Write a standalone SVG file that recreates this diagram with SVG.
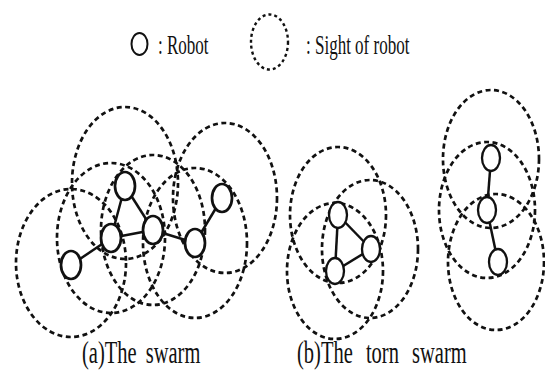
<svg xmlns="http://www.w3.org/2000/svg" width="545" height="382" viewBox="0 0 545 382">
<style>
.sight{fill:none;stroke:#111;stroke-width:2.7;stroke-dasharray:5 3.5}
.robot{fill:#fff;stroke:#111;stroke-width:2.7}
.robotb{fill:#fff;stroke:#111;stroke-width:2.3}
.edge{stroke:#111;stroke-width:2.5;fill:none}
.t{font-family:"Liberation Serif","Times New Roman",serif;fill:#111}
</style>
<rect width="545" height="382" fill="#fff"/>
<g id="legend">
<ellipse cx="139.5" cy="44" rx="8" ry="11" fill="#fff" stroke="#111" stroke-width="2"/>
<text class="t" font-size="17" transform="translate(158,54) scale(1,1.65)">: Robot</text>
<ellipse cx="269.5" cy="42" rx="18.5" ry="27.5" fill="none" stroke="#111" stroke-width="2.4" stroke-dasharray="3 3"/>
<text class="t" font-size="17" transform="translate(306,54) scale(1,1.65)">: Sight of robot</text>
</g>
<g id="sights">
<ellipse class="sight" cx="71" cy="263" rx="55" ry="74"/>
<ellipse class="sight" cx="125" cy="183" rx="53" ry="76"/>
<ellipse class="sight" cx="111" cy="238" rx="54" ry="75"/>
<ellipse class="sight" cx="153" cy="230" rx="52" ry="75"/>
<ellipse class="sight" cx="195" cy="243" rx="52" ry="75"/>
<ellipse class="sight" cx="225" cy="198" rx="52" ry="75"/>
<ellipse class="sight" cx="338" cy="215" rx="48" ry="68"/>
<ellipse class="sight" cx="370" cy="249" rx="48" ry="69"/>
<ellipse class="sight" cx="335" cy="271" rx="48" ry="68"/>
<ellipse class="sight" cx="491" cy="159" rx="48" ry="69"/>
<ellipse class="sight" cx="487" cy="210" rx="48" ry="68"/>
<ellipse class="sight" cx="496" cy="262" rx="48" ry="68"/>
</g>
<g id="connectors">
<line class="edge" x1="71" y1="265" x2="111" y2="238"/>
<line class="edge" x1="111" y1="238" x2="125" y2="186"/>
<line class="edge" x1="125" y1="186" x2="153" y2="230"/>
<line class="edge" x1="111" y1="238" x2="153" y2="230"/>
<line class="edge" x1="153" y1="230" x2="195" y2="243"/>
<line class="edge" x1="195" y1="243" x2="222" y2="198"/>
<line class="edge" x1="338" y1="215" x2="371" y2="249"/>
<line class="edge" x1="338" y1="215" x2="335" y2="271"/>
<line class="edge" x1="371" y1="249" x2="335" y2="271"/>
<line class="edge" x1="491" y1="158" x2="487" y2="210"/>
<line class="edge" x1="487" y1="210" x2="498" y2="262"/>
</g>
<g id="robot-a1"><ellipse class="robot" cx="125" cy="186" rx="10" ry="14"/></g>
<g id="robot-a2"><ellipse class="robot" cx="111" cy="238" rx="10" ry="14"/></g>
<g id="robot-a3"><ellipse class="robot" cx="153" cy="230" rx="10" ry="14"/></g>
<g id="robot-a4"><ellipse class="robot" cx="195" cy="243" rx="10" ry="14"/></g>
<g id="robot-a5"><ellipse class="robot" cx="222" cy="198" rx="10" ry="14"/></g>
<g id="robot-a6"><ellipse class="robot" cx="71" cy="265" rx="10" ry="14"/></g>
<g id="robot-b1"><ellipse class="robotb" cx="338" cy="215" rx="9" ry="13"/></g>
<g id="robot-b2"><ellipse class="robotb" cx="371" cy="249" rx="9" ry="13"/></g>
<g id="robot-b3"><ellipse class="robotb" cx="335" cy="271" rx="9" ry="13"/></g>
<g id="robot-b4"><ellipse class="robotb" cx="491" cy="158" rx="9" ry="13"/></g>
<g id="robot-b5"><ellipse class="robotb" cx="487" cy="210" rx="9" ry="13"/></g>
<g id="robot-b6"><ellipse class="robotb" cx="498" cy="262" rx="9" ry="13"/></g>
<g id="captions">
<text class="t" font-size="20.5" word-spacing="4" transform="translate(82,363) scale(1,1.5)">(a)The swarm</text>
<text class="t" font-size="20.5" word-spacing="8" transform="translate(297,363) scale(1,1.5)">(b)The torn swarm</text>
</g>
</svg>
